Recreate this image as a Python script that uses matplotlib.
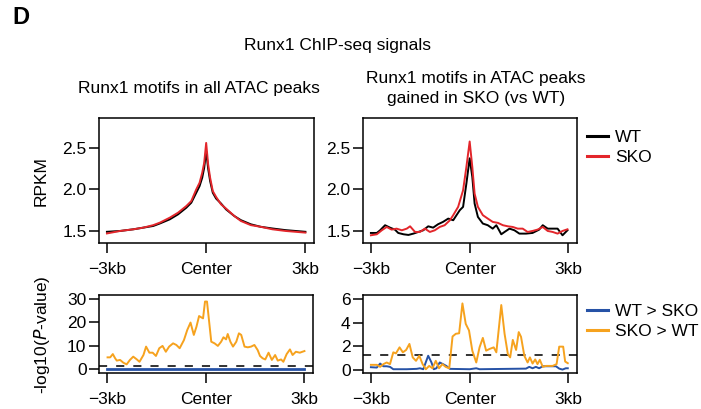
import matplotlib
matplotlib.use("Agg")
import matplotlib.pyplot as plt

plt.rcParams['font.family'] = ['Liberation Sans', 'DejaVu Sans']

# ---------------- data ----------------
xtick_pos = [-3, 0, 3]
xtick_labels = ["\u22123kb", "Center", "3kb"]

# Top-left: Runx1 motifs in all ATAC peaks (RPKM)
tl_x = [-3.0, -2.6, -2.2, -1.9, -1.6, -1.4, -1.1, -0.85, -0.6, -0.45, -0.3, -0.2, -0.12, -0.06, 0.0,
        0.06, 0.12, 0.2, 0.3, 0.45, 0.6, 0.85, 1.05, 1.35, 1.65, 2.0, 2.4, 2.7, 3.0]
tl_sko = [1.47, 1.50, 1.52, 1.54, 1.57, 1.60, 1.66, 1.72, 1.80, 1.86, 2.00, 2.08, 2.20, 2.32, 2.56,
          2.30, 2.14, 1.98, 1.91, 1.82, 1.77, 1.68, 1.62, 1.57, 1.55, 1.52, 1.50, 1.49, 1.48]
tl_wt = [1.49, 1.50, 1.52, 1.54, 1.56, 1.59, 1.64, 1.70, 1.78, 1.84, 1.96, 2.04, 2.14, 2.26, 2.46,
         2.25, 2.10, 1.96, 1.89, 1.83, 1.76, 1.68, 1.63, 1.58, 1.55, 1.53, 1.51, 1.50, 1.49]

# Top-right: Runx1 motifs in ATAC peaks gained in SKO (RPKM)
tr_wt_x = [-3.0, -2.82, -2.72, -2.57, -2.42, -2.27, -2.17, -2.01, -1.86, -1.71, -1.56, -1.41, -1.26,
           -1.11, -0.96, -0.81, -0.65, -0.5, -0.4, -0.3, -0.2, -0.1, 0.0, 0.08, 0.15, 0.25, 0.4, 0.55,
           0.7, 0.81, 0.96, 1.06, 1.21, 1.36, 1.51, 1.71, 1.91, 2.11, 2.22, 2.37, 2.52, 2.67, 2.82, 2.97]
tr_wt = [1.476, 1.476, 1.508, 1.569, 1.54, 1.516, 1.476, 1.46, 1.452, 1.468, 1.488, 1.508, 1.556,
         1.54, 1.581, 1.609, 1.649, 1.629, 1.69, 1.75, 1.79, 2.07, 2.375, 2.15, 1.83, 1.669, 1.589,
         1.569, 1.528, 1.569, 1.46, 1.488, 1.528, 1.508, 1.468, 1.468, 1.476, 1.516, 1.569, 1.528,
         1.528, 1.528, 1.448, 1.508]
tr_sko_x = [-3.0, -2.82, -2.67, -2.52, -2.37, -2.22, -2.06, -1.91, -1.81, -1.66, -1.51, -1.36, -1.21,
            -1.06, -0.91, -0.76, -0.6, -0.5, -0.35, -0.2, -0.1, 0.0, 0.08, 0.15, 0.25, 0.4, 0.55, 0.7,
            0.86, 1.01, 1.16, 1.31, 1.46, 1.61, 1.76, 1.91, 2.06, 2.22, 2.37, 2.52, 2.67, 2.82, 2.97]
tr_sko = [1.448, 1.46, 1.508, 1.548, 1.516, 1.528, 1.508, 1.528, 1.556, 1.488, 1.488, 1.528, 1.488,
          1.508, 1.548, 1.569, 1.629, 1.69, 1.79, 1.99, 2.27, 2.577, 2.27, 1.95, 1.79, 1.69, 1.649,
          1.609, 1.597, 1.569, 1.556, 1.548, 1.528, 1.528, 1.488, 1.5, 1.516, 1.548, 1.5, 1.488,
          1.468, 1.5, 1.52]

# Bottom-left: -log10(P) all peaks
bl_up_x = [-2.98, -2.90, -2.82, -2.75, -2.70, -2.60, -2.50, -2.40, -2.30, -2.20, -2.09, -2.01, -1.89,
           -1.81, -1.71, -1.61, -1.51, -1.41, -1.31, -1.21, -1.11, -0.99, -0.89, -0.79, -0.66, -0.56,
           -0.46, -0.36, -0.28, -0.20, -0.13, -0.08, -0.02, 0.04, 0.10, 0.17, 0.27, 0.37, 0.47, 0.54,
           0.62, 0.67, 0.75, 0.83, 0.93, 1.01, 1.08, 1.18, 1.28, 1.38, 1.48, 1.58, 1.65, 1.73, 1.81,
           1.91, 2.01, 2.11, 2.19, 2.29, 2.36, 2.46, 2.56, 2.64, 2.74, 2.86, 3.0]
bl_up = [5.0, 5.0, 6.4, 4.6, 3.6, 3.9, 2.7, 2.0, 3.9, 5.3, 4.1, 3.1, 6.0, 9.6, 7.0, 7.0, 5.6, 8.9, 9.9,
         7.4, 9.6, 11.0, 10.3, 8.9, 12.4, 16.7, 19.9, 14.6, 18.1, 22.7, 22.1, 21.7, 28.9, 28.9, 21.0,
         11.7, 11.0, 9.9, 11.7, 13.6, 12.7, 15.0, 11.7, 9.6, 11.7, 15.3, 14.6, 9.6, 9.3, 9.6, 10.3,
         8.1, 5.6, 4.6, 4.1, 7.0, 3.9, 6.0, 3.6, 4.1, 3.1, 6.4, 8.4, 6.0, 7.4, 7.0, 7.7]
bl_down_x = [-3.0, -1.5, 0.0, 1.5, 3.0]
bl_down = [0.1, 0.1, 0.1, 0.1, 0.1]

# Bottom-right: -log10(P) gained peaks
br_up_x = [-3.0, -2.82, -2.72, -2.62, -2.52, -2.42, -2.32, -2.24, -2.13, -2.03, -1.93, -1.83, -1.73,
           -1.63, -1.53, -1.43, -1.33, -1.23, -1.13, -1.03, -0.93, -0.83, -0.73, -0.62, -0.52, -0.42,
           -0.32, -0.22, -0.12, -0.02, 0.08, 0.20, 0.30, 0.40, 0.50, 0.60, 0.73, 0.81, 0.96, 1.06,
           1.16, 1.23, 1.31, 1.41, 1.49, 1.56, 1.66, 1.76, 1.83, 1.91, 1.99, 2.06, 2.13, 2.22, 2.32,
           2.52, 2.64, 2.72, 2.84, 2.90, 2.98]
br_up = [0.43, 0.43, 0.26, 0.49, 0.63, 0.49, 1.49, 1.4, 1.91, 1.49, 1.69, 2.2, 1.06, 0.77, 1.2, 0.49,
         0.06, 0.34, 0.14, 0.77, 0.14, 0.49, 0.26, 0.14, 2.83, 3.06, 3.1, 5.63, 3.9, 3.34, 1.63, 0.63,
         1.91, 2.71, 1.63, 1.77, 1.91, 1.49, 5.49, 3.06, 1.34, 1.06, 2.54, 1.69, 3.2, 2.8, 1.2, 0.63,
         1.06, 0.54, 0.89, 0.49, 0.86, 0.26, 0.34, 0.34, 0.49, 1.97, 1.97, 0.71, 0.57]
br_down_x = [-3.0, -2.82, -2.72, -2.62, -2.52, -2.42, -2.32, -1.91, -1.61, -1.51, -1.41, -1.26, -1.16,
             -1.09, -1.01, -0.91, -0.81, -0.71, -0.6, 0.0, 0.2, 0.3, 1.71, 1.81, 1.91, 2.01, 2.11,
             2.22, 2.42, 2.62, 2.72, 2.82, 2.92, 2.98]
br_down = [0.23, 0.2, 0.54, 0.31, 0.31, 0.26, 0.06, 0.06, 0.09, 0.14, 0.06, 1.2, 0.63, 0.06, 0.14,
           0.63, 0.49, 0.34, 0.09, 0.06, 0.14, 0.06, 0.11, 0.26, 0.14, 0.26, 0.14, 0.31, 0.31, 0.31,
           0.11, 0.03, 0.14, 0.14]

p_threshold = 1.3  # -log10(0.05)

# ---------------- style ----------------
C_WT = "#000000"
C_SKO = "#E3262B"
C_DOWN = "#2652A6"
C_UP = "#F6A21E"
FS = 12.5
LW = 1.4

W, H = 701, 409
fig = plt.figure(figsize=(W / 100, H / 100), dpi=100)


def px_axes(x0, y0, x1, y1):
    return fig.add_axes([x0 / W, 1 - y1 / H, (x1 - x0) / W, (y1 - y0) / H])


def style(ax, yticks, ylim):
    ax.set_xlim(-3.24, 3.26)
    ax.set_ylim(*ylim)
    ax.set_xticks(xtick_pos)
    ax.set_xticklabels(xtick_labels)
    ax.set_yticks(yticks)
    ax.tick_params(axis='both', direction='out', length=7, width=1.1, labelsize=FS, color='black')
    ax.tick_params(axis='x', pad=6.5)
    ax.tick_params(axis='y', pad=2)
    for s in ax.spines.values():
        s.set_linewidth(1.1)


ax_tl = px_axes(99, 118, 314, 243)
ax_tr = px_axes(363, 118, 577, 243)
ax_bl = px_axes(99, 295, 313, 373)
ax_br = px_axes(363, 295, 577, 373)

l_wt, = ax_tl.plot(tl_x, tl_wt, color=C_WT, lw=LW, label="WT")
l_sko, = ax_tl.plot(tl_x, tl_sko, color=C_SKO, lw=LW, label="SKO")
style(ax_tl, [1.5, 2.0, 2.5], (1.355, 2.86))
ax_tl.set_yticklabels(["1.5", "2.0", "2.5"])

ax_tr.plot(tr_wt_x, tr_wt, color=C_WT, lw=LW)
ax_tr.plot(tr_sko_x, tr_sko, color=C_SKO, lw=LW)
style(ax_tr, [1.5, 2.0, 2.5], (1.355, 2.86))
ax_tr.set_yticklabels(["1.5", "2.0", "2.5"])

ax_bl.axhline(p_threshold, color='#222222', lw=1.3, ls=(0, (4.5, 5)))
ax_bl.plot(bl_down_x, bl_down, color=C_DOWN, lw=2.0)
ax_bl.plot(bl_up_x, bl_up, color=C_UP, lw=LW)
style(ax_bl, [0, 10, 20, 30], (-1.7, 31.7))

ax_br.axhline(p_threshold, color='#222222', lw=1.3, ls=(0, (4.5, 5)))
l_down, = ax_br.plot(br_down_x, br_down, color=C_DOWN, lw=LW, label="WT > SKO")
l_up, = ax_br.plot(br_up_x, br_up, color=C_UP, lw=LW, label="SKO > WT")
style(ax_br, [0, 2, 4, 6], (-0.26, 6.34))

# legends
leg_kw = dict(loc='upper left', frameon=False, fontsize=FS, handlelength=1.2, handletextpad=0.4,
              labelspacing=0.25, borderpad=0, borderaxespad=0)
leg1 = fig.legend(handles=[l_wt, l_sko], bbox_to_anchor=(587 / W, 1 - 130 / H), **leg_kw)
leg2 = fig.legend(handles=[l_down, l_up], bbox_to_anchor=(587 / W, 1 - 304 / H), **leg_kw)
for leg in (leg1, leg2):
    for h in leg.legend_handles:
        h.set_linewidth(2.2)

# texts
fig.text(12 / W, 1 - 18 / H, "D", fontsize=17, fontweight='bold', ha='left', va='center')
fig.text(337.5 / W, 1 - 50 / H, "Runx1 ChIP-seq signals", fontsize=FS, ha='center', va='baseline')
fig.text(199 / W, 1 - 93 / H, "Runx1 motifs in all ATAC peaks", fontsize=FS, ha='center', va='baseline')
fig.text(476 / W, 1 - 83 / H, "Runx1 motifs in ATAC peaks", fontsize=FS, ha='center', va='baseline')
fig.text(476 / W, 1 - 103 / H, "gained in SKO (vs WT)", fontsize=FS, ha='center', va='baseline')
fig.text(41 / W, 1 - 181 / H, "RPKM", fontsize=FS, rotation=90, ha='center', va='center')
fig.text(42 / W, 1 - 335 / H, r"-log10($\mathit{P}$-value)", fontsize=FS, rotation=90,
         ha='center', va='center')

fig.savefig("out.png", dpi=100)
